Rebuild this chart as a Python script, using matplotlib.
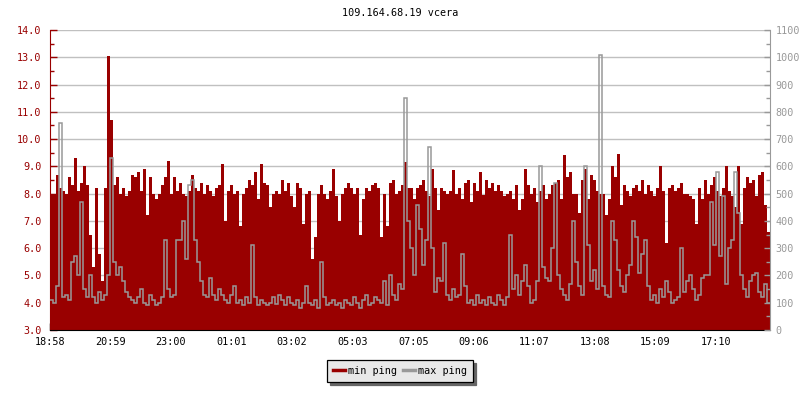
import numpy as np
import matplotlib
matplotlib.use("Agg")
import matplotlib.pyplot as plt
from matplotlib.lines import Line2D
from matplotlib.ticker import MultipleLocator

plt.rcParams['font.family'] = ['DejaVu Sans Mono']

title = "109.164.68.19 vcera"
series_names = ["min ping", "max ping"]
tick_labels = ["18:58", "20:59", "23:00", "01:01", "03:02", "05:03",
               "07:05", "09:06", "11:07", "13:08", "15:09", "17:10"]
step_min = 6  # one value every 6 minutes, 24 hours total

# min ping in ms (left axis)
min_ping = [
    8.0, 8.0, 8.7, 8.2, 8.1, 8.0, 8.6, 8.3, 9.3, 8.1,
    8.4, 9.0, 8.3, 6.5, 5.3, 8.2, 5.8, 4.8, 8.2, 13.05,
    10.7, 8.3, 8.6, 8.0, 8.2, 7.9, 8.1, 8.7, 8.6, 8.8,
    8.1, 8.9, 7.2, 8.6, 8.0, 7.8, 8.0, 8.3, 8.6, 9.2,
    8.0, 8.6, 8.1, 8.4, 8.0, 7.9, 8.1, 8.7, 8.2, 8.1,
    8.4, 8.0, 8.3, 8.1, 7.9, 8.2, 8.3, 9.1, 7.0, 8.1,
    8.3, 8.0, 8.1, 6.8, 8.0, 8.2, 8.5, 8.3, 8.8, 7.8,
    9.1, 8.4, 8.3, 7.5, 8.0, 8.1, 8.0, 8.5, 8.1, 8.4,
    7.9, 7.5, 8.4, 8.2, 6.9, 8.0, 8.1, 5.6, 6.4, 8.0,
    8.3, 8.0, 7.8, 8.1, 8.9, 7.9, 7.0, 8.0, 8.2, 8.4,
    8.2, 8.0, 8.2, 6.5, 7.8, 8.2, 8.1, 8.3, 8.4, 8.2,
    6.4, 8.0, 6.8, 8.4, 8.5, 8.0, 8.1, 8.3, 9.15, 8.2,
    8.2, 7.8, 8.2, 8.3, 8.5, 8.1, 7.9, 8.9, 8.2, 7.4,
    8.2, 8.1, 8.0, 8.1, 8.85, 8.0, 8.2, 7.8, 8.4, 8.5,
    7.7, 8.4, 8.1, 8.8, 7.95, 8.5, 8.2, 8.4, 8.1, 8.3,
    8.1, 7.9, 8.0, 8.1, 7.8, 8.3, 7.4, 7.8, 8.9, 8.3,
    8.0, 8.2, 7.7, 8.1, 8.3, 7.8, 8.0, 8.3, 8.4, 8.5,
    7.8, 9.4, 8.6, 8.8, 8.0, 8.0, 7.3, 8.5, 8.9, 7.8,
    8.7, 8.5, 8.1, 8.0, 8.0, 7.2, 7.8, 9.0, 8.6, 9.45,
    7.6, 8.3, 8.1, 7.9, 8.2, 8.3, 8.1, 8.5, 8.0, 8.3,
    8.1, 7.9, 8.2, 9.0, 8.1, 6.2, 8.2, 8.3, 8.1, 8.2,
    8.4, 8.0, 8.0, 7.9, 7.8, 6.9, 8.2, 7.8, 8.5, 8.0,
    8.3, 8.6, 8.1, 7.9, 8.2, 9.0, 8.1, 7.9, 7.5, 9.0,
    6.9, 8.2, 8.6, 8.4, 8.5, 7.9, 8.7, 8.8, 7.6, 6.6,
]

# max ping in ms (right axis)
max_ping = [
    110, 100, 160, 760, 120, 130, 110, 250, 270, 200,
    470, 150, 120, 200, 120, 100, 140, 110, 130, 200,
    630, 250, 200, 230, 180, 140, 120, 110, 100, 120,
    150, 100, 90, 130, 110, 90, 100, 120, 330, 150,
    120, 130, 330, 330, 400, 260, 530, 550, 330, 250,
    180, 130, 120, 190, 130, 110, 150, 130, 110, 100,
    130, 160, 100, 110, 90, 120, 100, 310, 120, 90,
    110, 100, 90, 100, 120, 95, 130, 110, 90, 120,
    100, 90, 110, 80, 100, 160, 100, 90, 110, 80,
    250, 120, 90, 100, 110, 90, 100, 80, 110, 100,
    90, 120, 100, 80, 110, 130, 90, 100, 120, 110,
    100, 180, 90, 200, 130, 110, 170, 150, 850, 400,
    300, 200, 460, 370, 240, 330, 670, 300, 140, 190,
    180, 320, 130, 110, 150, 120, 130, 280, 160, 100,
    110, 90, 130, 100, 110, 90, 120, 100, 90, 130,
    110, 90, 120, 350, 150, 200, 130, 180, 240, 160,
    100, 110, 180, 600, 230, 190, 180, 300, 540, 200,
    150, 130, 110, 170, 400, 250, 160, 130, 600, 310,
    180, 220, 150, 1008, 160, 130, 120, 400, 330, 220,
    160, 140, 200, 240, 400, 340, 210, 280, 330, 160,
    110, 130, 100, 150, 120, 180, 140, 100, 110, 120,
    300, 140, 180, 200, 150, 110, 130, 190, 200, 200,
    470, 310, 580, 270, 490, 170, 300, 330, 580, 430,
    200, 150, 120, 180, 200, 210, 140, 120, 170, 100,
]

RED = '#990000'
GRAY = '#999999'
FS = 7.3

def to_min(s):
    h, m = map(int, s.split(':'))
    return ((h * 60 + m) - (18 * 60 + 58)) % 1440

edges = np.arange(len(min_ping) + 1) * step_min
tick_pos = [to_min(t) for t in tick_labels]

fig = plt.figure(figsize=(8, 4), dpi=100)
ax = fig.add_axes([0.0625, 0.175, 0.9, 0.75])

ax.stairs(min_ping, edges, baseline=3.0, fill=True, color=RED, lw=0)
ax.set_xlim(0, 1440)
ax.set_ylim(3, 14)
ax.set_yticks(np.arange(3, 15))
ax.set_yticklabels(['%.1f' % v for v in np.arange(3, 15)])
ax.yaxis.set_minor_locator(MultipleLocator(0.5))
ax.set_xticks(tick_pos)
ax.set_xticklabels(tick_labels)
ax.grid(axis='y', color='#c0c0c0', lw=1.0)
ax.set_axisbelow(True)
ax.tick_params(axis='y', which='major', direction='in', length=5, width=1,
               colors=RED, labelsize=FS, pad=6)
ax.tick_params(axis='y', which='minor', direction='in', length=3, width=1, colors=RED)
ax.tick_params(axis='x', direction='in', length=5, width=1, colors='black',
               labelsize=FS, pad=5)
ax.spines['left'].set_color(RED)
ax.spines['bottom'].set_color('black')
ax.spines['top'].set_visible(False)
ax.spines['right'].set_visible(False)

ax2 = ax.twinx()
ax2.stairs(max_ping, edges, baseline=None, color=GRAY, lw=1.1)
ax2.set_ylim(0, 1100)
ax2.set_yticks(np.arange(0, 1101, 100))
ax2.yaxis.set_minor_locator(MultipleLocator(50))
ax2.tick_params(axis='y', which='major', direction='in', length=4, width=1,
                colors=GRAY, labelsize=FS, pad=4)
ax2.tick_params(axis='y', which='minor', direction='in', length=3, width=1, colors=GRAY)
ax2.spines['right'].set_color(GRAY)
for s in ['left', 'top', 'bottom']:
    ax2.spines[s].set_visible(False)

fig.text(0.5, 1 - 13 / 400, title, ha='center', va='center', fontsize=FS)

handles = [Line2D([], [], color=RED, lw=2.5), Line2D([], [], color=GRAY, lw=2.5)]
leg = fig.legend(handles, series_names, loc='center', bbox_to_anchor=(0.5, 0.0725),
                 ncol=2, fancybox=False, shadow={'color': '#666666', 'alpha': 1},
                 edgecolor='black', facecolor='#e8e8e8', framealpha=1,
                 handlelength=1.2, handletextpad=0.3, columnspacing=0.5,
                 borderpad=0.6, fontsize=FS)
leg.get_frame().set_linewidth(0.9)

fig.savefig('out.png', dpi=100)
